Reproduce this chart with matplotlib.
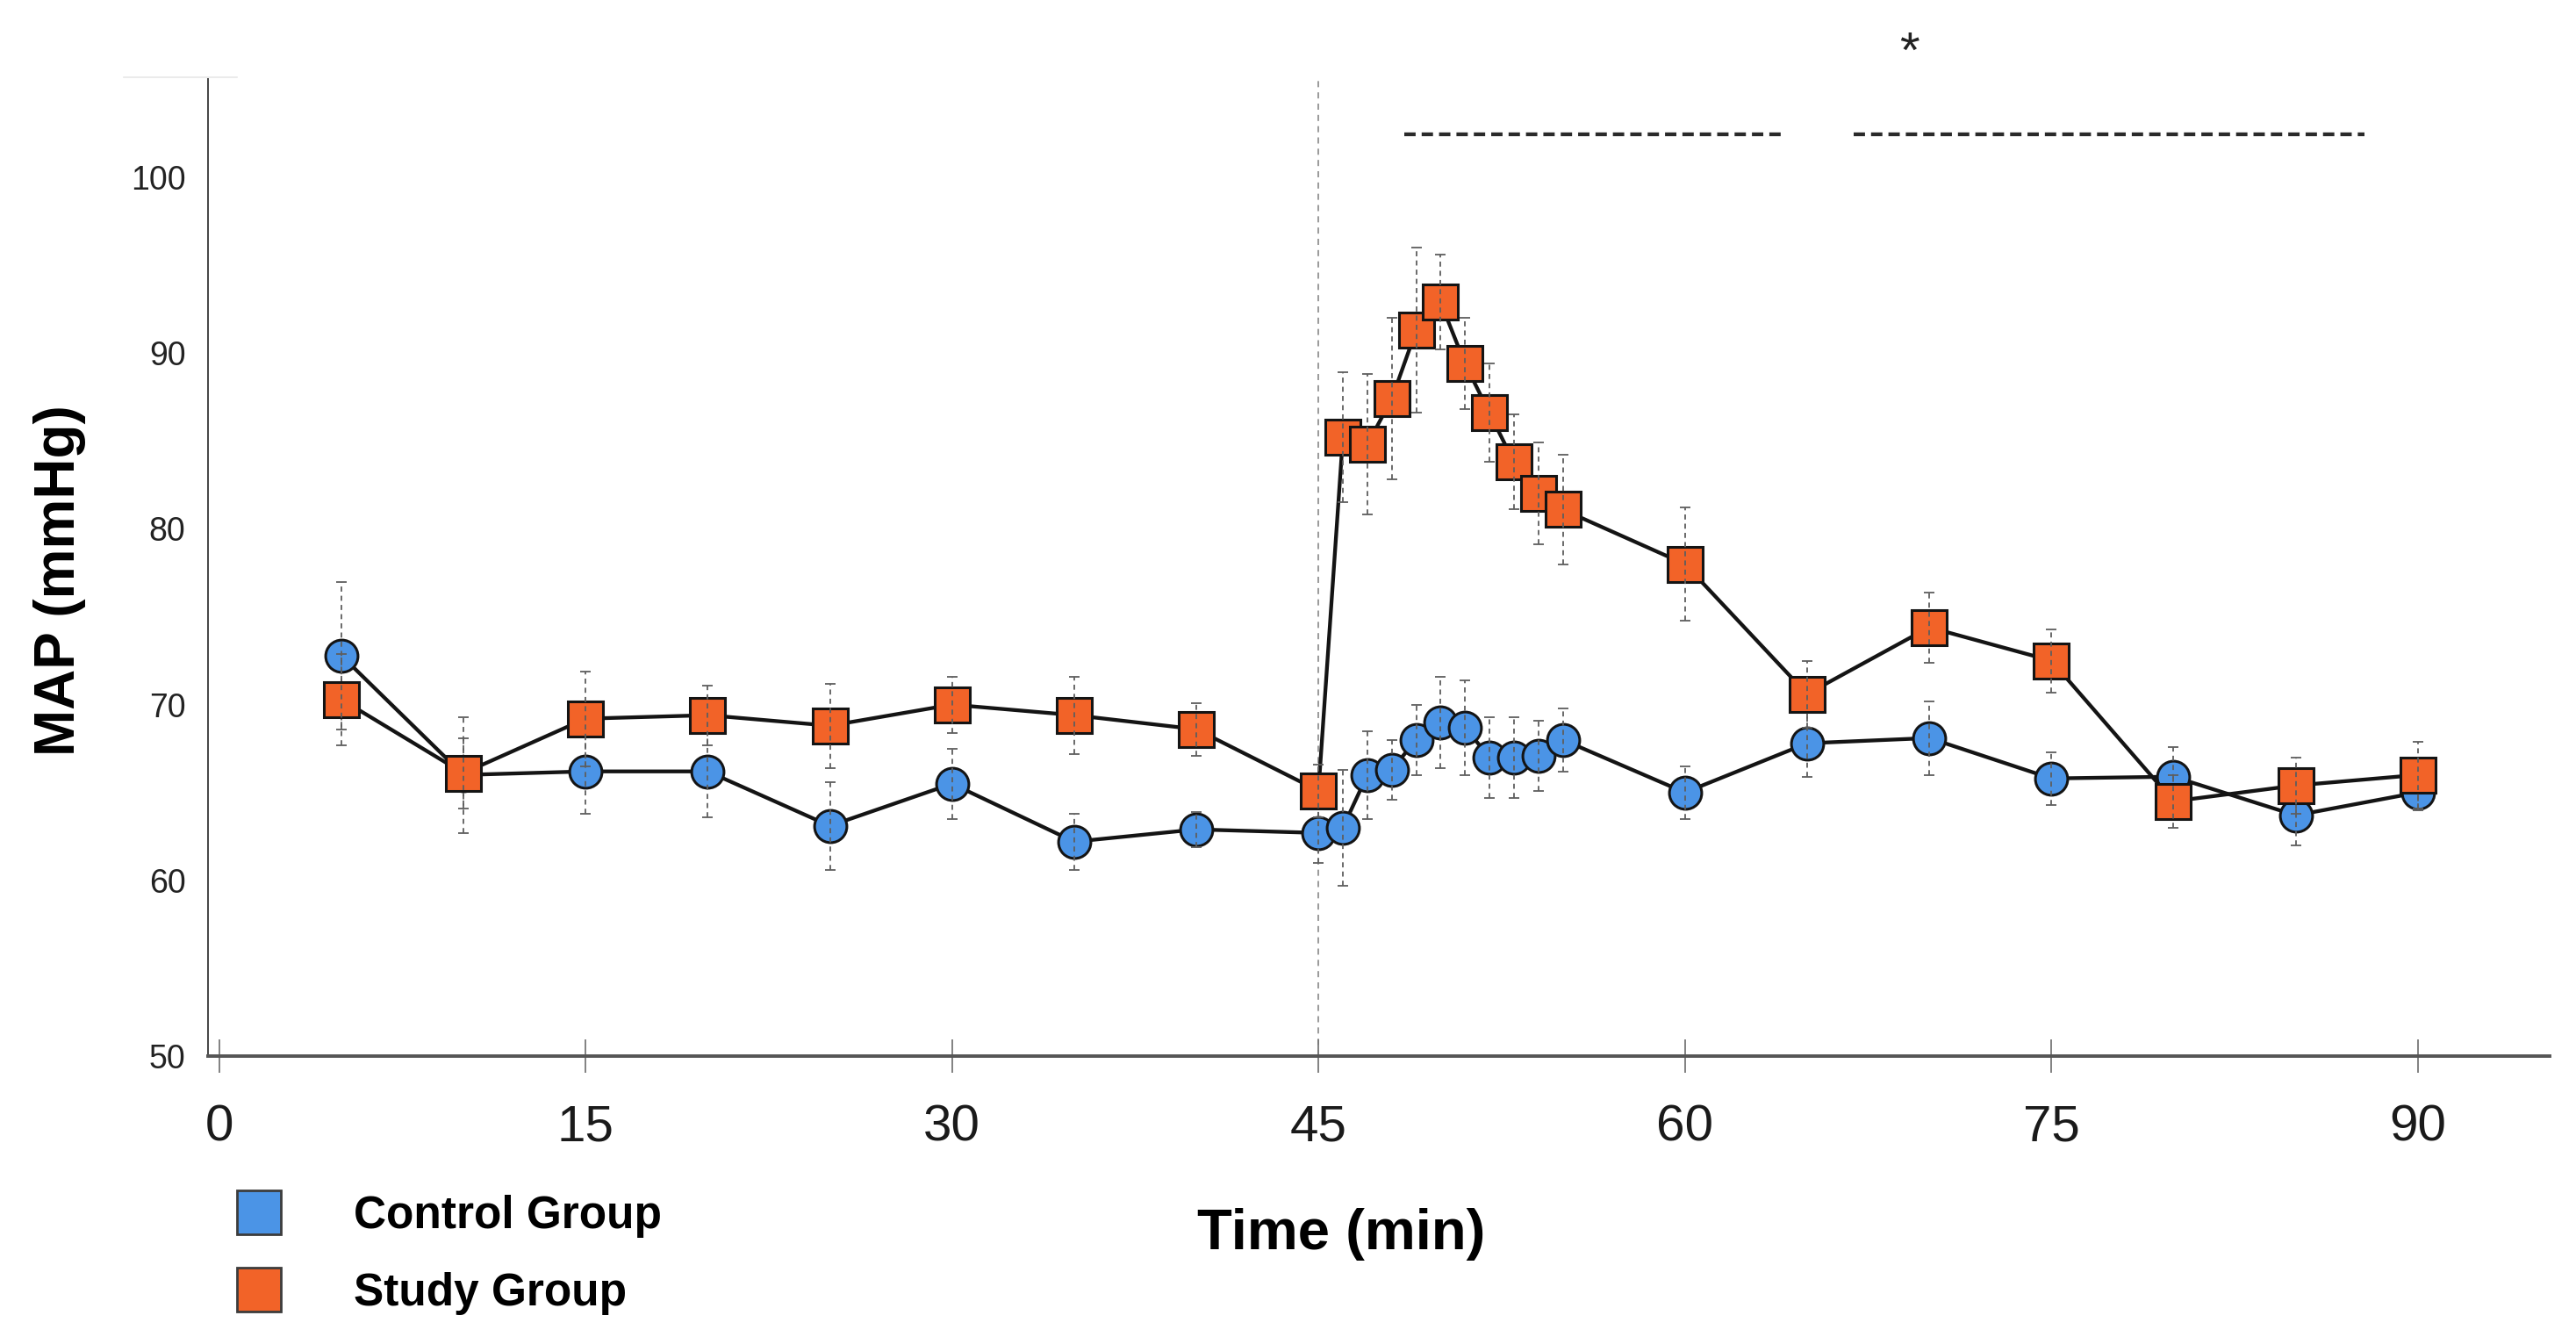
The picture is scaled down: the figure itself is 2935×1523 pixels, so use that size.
import matplotlib
matplotlib.use("Agg")
import matplotlib.pyplot as plt
from matplotlib.lines import Line2D

plt.rcParams["font.family"] = ["Liberation Sans", "DejaVu Sans"]

# minutes
time = [5, 10, 15, 20, 25, 30, 35, 40, 45, 46, 47, 48, 49, 50, 51, 52, 53, 54, 55,
        60, 65, 70, 75, 80, 85, 90]

control = [72.8, 66.0, 66.2, 66.2, 63.1, 65.5, 62.2, 62.9, 62.7, 63.0, 66.0, 66.3, 68.0,
           69.0, 68.7, 67.0, 67.0, 67.1, 68.0, 65.0, 67.8, 68.1, 65.8, 65.9, 63.7, 65.0]
control_sd = [4.2, 3.3, 2.4, 2.6, 2.5, 2.0, 1.6, 1.0, 1.7, 3.3, 2.5, 1.7, 2.0,
              2.6, 2.7, 2.3, 2.3, 2.0, 1.8, 1.5, 1.9, 2.1, 1.5, 1.7, 1.7, 1.0]

study = [70.3, 66.1, 69.2, 69.4, 68.8, 70.0, 69.4, 68.6, 65.1, 85.2, 84.8, 87.4, 91.3,
         92.9, 89.4, 86.6, 83.8, 82.0, 81.1, 78.0, 70.6, 74.4, 72.5, 64.5, 65.4, 66.0]
study_sd = [2.6, 2.0, 2.7, 1.7, 2.4, 1.6, 2.2, 1.5, 1.5, 3.7, 4.0, 4.6, 4.7,
            2.7, 2.6, 2.8, 2.7, 2.9, 3.1, 3.2, 1.9, 2.0, 1.8, 1.5, 1.6, 1.9]

# significance bars (start, end) at y = sig_y, star position
sig_spans = [(48.5, 64.1), (66.9, 87.8)]
sig_y = 102.45
star_x, star_y = 69.2, 107.0
event_time = 45

x_ticks = [0, 15, 30, 45, 60, 75, 90]
y_ticks = [50, 60, 70, 80, 90, 100]

BLUE = "#4b94e6"
ORANGE = "#f26328"

fig = plt.figure(figsize=(29.35, 15.23), dpi=100)
ax = fig.add_axes([0.0806, 0.2101, 0.9092, 0.7308])

ax.set_xlim(-0.47, 95.4)
ax.set_ylim(50, 105.6)

# event marker at 45 min
ax.axvline(event_time, color="#9a9a9a", lw=1.4, ls=(0, (3.6, 3.0)), zorder=1)

series = [
    (control, control_sd, BLUE, "o", 26.5, 2),
    (study, study_sd, ORANGE, "s", 28.5, 5),
]
for vals, sd, col, mk, ms, z in series:
    ax.plot(time, vals, "-", color="#141414", lw=3.1, marker=mk, ms=ms,
            mfc=col, mec="#141414", mew=2.2, zorder=z)
    eb = ax.errorbar(time, vals, yerr=sd, fmt="none", ecolor="#5e5e5e",
                     elinewidth=1.3, capsize=4, capthick=1.3, zorder=z + 1)
    eb[2][0].set_linestyle((0, (3.2, 2.6)))

for x0, x1 in sig_spans:
    ax.plot([x0, x1], [sig_y, sig_y], color="#2a2a2a", lw=3.1,
            ls=(0, (3.0, 1.6)), clip_on=False, zorder=3)
ax.text(star_x, star_y, "*", fontsize=42, ha="center", va="center",
        color="#222222", clip_on=False)

# spines and ticks
for side in ("top", "right"):
    ax.spines[side].set_visible(False)
ax.spines["left"].set_color("#444444")
ax.spines["left"].set_linewidth(1.4)
ax.spines["bottom"].set_color("#555555")
ax.spines["bottom"].set_linewidth(2.8)

ax.set_xticks(x_ticks)
ax.set_yticks(y_ticks)
ax.tick_params(axis="x", direction="inout", length=27, width=1.3, color="#777777",
               labelsize=42, pad=26, labelcolor="#1a1a1a")
ax.tick_params(axis="y", length=0, labelsize=27, pad=18, labelcolor="#222222")

ax.set_ylabel("MAP (mmHg)", fontsize=46, fontweight="bold")
ax.yaxis.set_label_coords(-0.052, 0.487)

fig.text(0.5206, 0.0765, "Time (min)", fontsize=47, fontweight="bold",
         ha="center", va="center")

# faint stray rule at top left in the original
fig.add_artist(Line2D([0.048, 0.092], [0.9425, 0.9425], color="#e8e8e8", lw=1.2))

handles = [
    Line2D([], [], ls="none", marker="s", ms=36, mfc=BLUE, mec="#3c3c3c", mew=2),
    Line2D([], [], ls="none", marker="s", ms=36, mfc=ORANGE, mec="#3c3c3c", mew=2),
]
fig.legend(handles, ["Control Group", "Study Group"], loc="center left",
           bbox_to_anchor=(0.0831, 0.0617), frameon=False, borderpad=0,
           handlelength=1.0, handletextpad=1.6, labelspacing=0.76,
           prop={"size": 37, "weight": "bold"})

fig.savefig("out.png", dpi=100, facecolor="white")
